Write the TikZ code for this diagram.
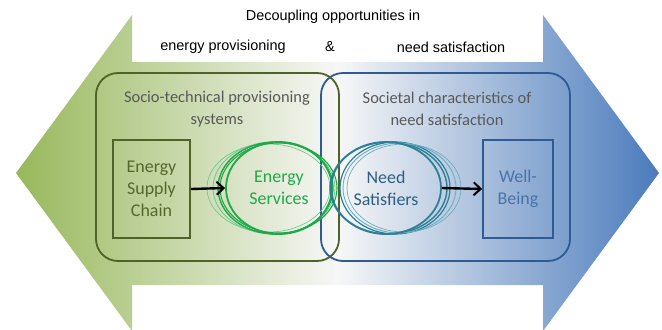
\documentclass[tikz,border=0pt]{standalone}
\usepackage{fontspec}
\setmainfont{Carlito}
\newfontfamily\arialfont{Liberation Sans}
\usetikzlibrary{shapes.geometric,arrows.meta}

\definecolor{olivedark}{HTML}{4F6228}
\definecolor{olivetext}{HTML}{56672E}
\definecolor{bluedark}{HTML}{2F5A94}
\definecolor{bluetext}{HTML}{4A72AA}
\definecolor{arrgreen}{HTML}{97B85A}
\definecolor{arrblue}{HTML}{4A7BBC}
\definecolor{esgreen}{HTML}{1FA84A}
\definecolor{eslight}{HTML}{6FCB8B}
\definecolor{nsteal}{HTML}{2C7F95}
\definecolor{nslight}{HTML}{6AAEC0}
\definecolor{nstext}{HTML}{2F5F82}
\definecolor{headgrey}{HTML}{595959}

\begin{document}
\begin{tikzpicture}[x=1bp,y=-1bp,
    toptext/.style={font=\arialfont\fontsize{14.5}{17}\selectfont,inner sep=0pt},
    headtext/.style={text=headgrey,align=center,inner sep=0pt,
      font=\fontsize{16.5}{22}\selectfont},
    innerbox/.style={draw,line width=1.8bp,align=center,inner sep=0pt,
      minimum height=98bp,font=\fontsize{18}{22}\selectfont},
    ringmain/.style={ellipse,draw,line width=1.8bp,align=center,inner sep=0pt,
      minimum height=92bp,font=\fontsize{18}{22}\selectfont},
    flowarrow/.style={-{Straight Barb[length=7bp,width=13bp,line width=2bp]},
      line width=2.4bp,black}]
    \useasboundingbox (0,0) rectangle (662,329);
    \clip (0,0) rectangle (662,329);

    % двойная стрелка
    \shade[left color=arrgreen,right color=arrblue,middle color=white!94!gray]
      (16,173) -- (132,15) -- (132,62) -- (543,62) -- (543,15) -- (659,173)
      -- (543,331) -- (543,285) -- (132,285) -- (132,331) -- cycle;

    % заголовок
    \node[toptext] (decoup) at (333,17) {Decoupling opportunities in};
    \node[toptext] (provis) at (223,47) {energy provisioning};
    \node[toptext] (amp) at (330,47) {\&};
    \node[toptext] (needsat) at (451,47) {need satisfaction};

    % две области
    \draw[olivedark,line width=1.8bp,rounded corners=22bp] (96,73) rectangle (339,261);
    \draw[bluedark,line width=1.8bp,rounded corners=22bp] (321,73) rectangle (570,261);
    \node[headtext] (socio) at (217,109) {Socio-technical provisioning\\systems};
    \node[headtext] (societal) at (447,109) {Societal characteristics of\\need satisfaction};

    % блоки
    \node[innerbox,olivedark,text=olivetext,minimum width=77bp] (esc) at (151.5,189)
      {Energy\\Supply\\Chain};
    \node[innerbox,bluedark,text=bluetext,minimum width=70bp] (wb) at (518,189)
      {Well-\\Being};

    % эллипсы услуг
    \draw[eslight,line width=0.7bp] (268.5,188) ellipse [x radius=61.5bp,y radius=44bp];
    \draw[eslight,line width=0.9bp] (274,188) ellipse [x radius=61bp,y radius=46bp];
    \draw[esgreen,line width=1.4bp] (275.5,188) ellipse [x radius=57.5bp,y radius=46bp];
    \draw[esgreen,line width=1.1bp] (278.5,188) ellipse [x radius=58.5bp,y radius=45bp];
    \node[ringmain,esgreen,text=esgreen,minimum width=106bp] (es) at (279,188)
      {Energy\\Services};

    % эллипсы потребностей
    \draw[nsteal,line width=1.4bp] (388.5,188) ellipse [x radius=58.5bp,y radius=46bp];
    \draw[nsteal,line width=1.2bp] (395,188) ellipse [x radius=55bp,y radius=46bp];
    \draw[nslight,line width=0.9bp] (399.5,188) ellipse [x radius=56.5bp,y radius=45bp];
    \draw[nslight,line width=0.7bp] (404,188) ellipse [x radius=57bp,y radius=44bp];
    \node[ringmain,nsteal,text=nstext,minimum width=110bp] (ns) at (386,188)
      {Need\\Satisfiers};

    % связи
    \draw[flowarrow] (esc.east) -- (es.west);
    \draw[flowarrow] (ns.east) -- (wb.west);
\end{tikzpicture}
\end{document}
